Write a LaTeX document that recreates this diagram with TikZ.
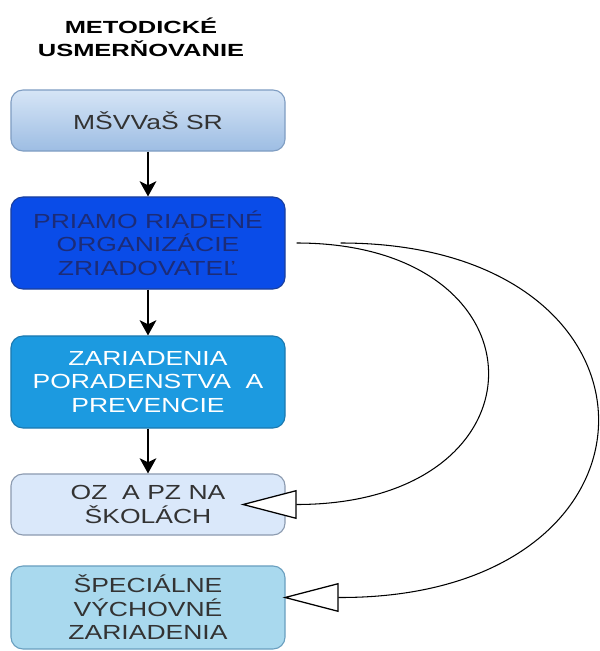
\documentclass[tikz,border=0pt]{standalone}
\usepackage{fontspec}
\setmainfont{Liberation Sans}[FakeStretch=1.3]
\newfontfamily\titlefont{Liberation Sans Bold}[FakeStretch=1.45]
\usetikzlibrary{arrows.meta}
\definecolor{msvtop}{HTML}{D6E5F6}
\definecolor{msvbot}{HTML}{9DBDE3}
\definecolor{msvline}{HTML}{7F9DC2}
\definecolor{prfill}{HTML}{0A4CE8}
\definecolor{prline}{HTML}{1A3F9E}
\definecolor{prtext}{HTML}{1C2C78}
\definecolor{zpfill}{HTML}{1C9AE0}
\definecolor{zpline}{HTML}{1B79B0}
\definecolor{ozfill}{HTML}{DAE8FA}
\definecolor{ozline}{HTML}{8C9BB0}
\definecolor{svfill}{HTML}{A9D9EE}
\definecolor{svline}{HTML}{6A9FBF}
\definecolor{boxtext}{HTML}{333333}
\tikzset{
  box/.style={draw, line width=0.8pt, rounded corners=0.3cm, minimum width=6.85cm,
    inner sep=0pt, align=center, text=boxtext, font=\fontsize{14.5}{16.7}\selectfont},
  down/.style={-{Stealth[length=0.38cm,width=0.42cm,inset=0.1cm]}, line width=0.9pt},
  hollow/.style={-{Triangle[open,fill=white,length=1.4cm,width=0.72cm,line width=0.9pt]}, line width=0.75pt}
}
\begin{document}
\begin{tikzpicture}[x=0.025cm,y=-0.025cm]
\useasboundingbox (0,0) rectangle (599,651);
% title
\node[align=center, font=\titlefont\fontsize{12.5}{16.5}\selectfont, text=black] (title) at (141,37) {METODICKÉ\\USMERŇOVANIE};
% boxes
\node[box, minimum height=1.525cm, top color=msvtop, bottom color=msvbot, draw=msvline] (msv) at (148,120.5) {MŠVVaŠ SR};
\node[box, minimum height=2.3cm, fill=prfill, draw=prline, text=prtext] (priamo) at (148,243) {PRIAMO RIADENÉ\\ORGANIZÁCIE\\ZRIADOVATEĽ};
\node[box, minimum height=2.3cm, fill=zpfill, draw=zpline, text=white] (zar) at (148,382) {ZARIADENIA\\PORADENSTVA\ \ A\\PREVENCIE};
\node[box, minimum height=1.525cm, fill=ozfill, draw=ozline] (ozpz) at (148,504.5) {OZ\ \ A PZ NA\\ŠKOLÁCH};
\node[box, minimum height=2.075cm, fill=svfill, draw=svline] (spec) at (148,607.5) {ŠPECIÁLNE\\VÝCHOVNÉ\\ZARIADENIA};
% arrows
\draw[down] (msv) -- (priamo);
\draw[down] (priamo) -- (zar);
\draw[down] (zar) -- (ozpz);
\draw[hollow] (priamo.east) ++(11,0) .. controls +(256,0) and +(256,0) .. ([xshift=0.275cm]ozpz.east) -- ([xshift=-1.125cm]ozpz.east);
\draw[hollow] (priamo.east) ++(55,0) .. controls +(344,0) and +(344,0) .. ([xshift=1.375cm,yshift=0.25cm]spec.east) -- ([xshift=-0.075cm,yshift=0.25cm]spec.east);
\end{tikzpicture}
\end{document}
